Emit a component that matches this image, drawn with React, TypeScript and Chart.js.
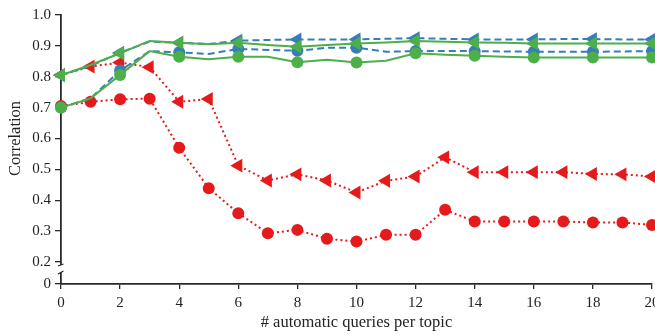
import React, { useEffect, useRef } from "react";
import { Chart, registerables } from "chart.js";

Chart.register(...registerables);

const X_VALUES = [0, 1, 2, 3, 4, 5, 6, 7, 8, 9, 10, 11, 12, 13, 14, 15, 16, 17, 18, 19, 20];
const RED_CIRCLE = [0.705, 0.719, 0.727, 0.729, 0.57, 0.439, 0.358, 0.293, 0.304, 0.275, 0.266, 0.288, 0.288, 0.369, 0.331, 0.331, 0.331, 0.331, 0.328, 0.328, 0.32];
const RED_TRIANGLE = [0.806, 0.833, 0.846, 0.831, 0.719, 0.728, 0.512, 0.464, 0.484, 0.464, 0.425, 0.463, 0.477, 0.539, 0.491, 0.491, 0.491, 0.491, 0.485, 0.484, 0.477];
const BLUE_CIRCLE = [0.7, 0.73, 0.82, 0.883, 0.879, 0.874, 0.89, 0.887, 0.884, 0.894, 0.894, 0.881, 0.883, 0.883, 0.883, 0.882, 0.881, 0.881, 0.881, 0.882, 0.883];
const BLUE_TRIANGLE = [0.805, 0.835, 0.878, 0.914, 0.91, 0.906, 0.917, 0.919, 0.921, 0.921, 0.921, 0.923, 0.925, 0.923, 0.921, 0.921, 0.921, 0.922, 0.922, 0.921, 0.921];
const GREEN_CIRCLE = [0.7, 0.73, 0.806, 0.883, 0.865, 0.857, 0.865, 0.865, 0.847, 0.855, 0.846, 0.852, 0.876, 0.871, 0.868, 0.865, 0.862, 0.862, 0.862, 0.862, 0.862];
const GREEN_TRIANGLE = [0.805, 0.838, 0.876, 0.916, 0.91, 0.905, 0.91, 0.903, 0.897, 0.903, 0.908, 0.911, 0.916, 0.913, 0.911, 0.91, 0.908, 0.908, 0.908, 0.908, 0.908];

const Y_TICKS = [0.2, 0.3, 0.4, 0.5, 0.6, 0.7, 0.8, 0.9, 1.0];
const Y_BREAK_MIN = 0.1287; // where the "0" label sits after the axis break
const X_TITLE = "# automatic queries per topic";
const Y_TITLE = "Correlation";

const RED = "#e41a1c";
const BLUE = "#377eb8";
const GREEN = "#4daf4a";
const AXIS = "#2a2a2a";
const FONT = "'Liberation Serif', 'DejaVu Serif', serif";

const toPoints = (ys: number[]) => X_VALUES.map((x, i) => ({ x, y: ys[i] }));

const everyOther = (r: number) => (ctx: any) => (ctx.dataIndex % 2 === 0 ? r : 0);

const decorPlugin = {
  id: "decor",
  afterDraw(chart: any) {
    const { ctx, chartArea } = chart;
    const y = chart.scales.y;
    const left = chartArea.left;
    const y02 = y.getPixelForValue(0.2);
    ctx.save();
    // axis break
    ctx.fillStyle = "#ffffff";
    ctx.fillRect(left - 3, y02 + 3, 6, 7);
    ctx.strokeStyle = AXIS;
    ctx.lineWidth = 1.3;
    ctx.beginPath();
    ctx.moveTo(left - 3, y02 + 4);
    ctx.lineTo(left + 2.5, y02 + 2);
    ctx.moveTo(left - 3, y02 + 12);
    ctx.lineTo(left + 2.5, y02 + 9);
    ctx.stroke();
    // titles
    ctx.fillStyle = "#222";
    ctx.font = "16.5px " + FONT;
    ctx.textAlign = "center";
    ctx.textBaseline = "middle";
    ctx.fillText(X_TITLE, (chartArea.left + chartArea.right) / 2, 323);
    ctx.translate(16, (y.getPixelForValue(1.0) + y02) / 2);
    ctx.rotate(-Math.PI / 2);
    ctx.fillText(Y_TITLE, 0, 0);
    ctx.restore();
  },
};

export default function App() {
  const ref = useRef<HTMLCanvasElement | null>(null);

  useEffect(() => {
    if (!ref.current) return;
    const common = { borderWidth: 2, tension: 0, clip: false as any, pointBorderWidth: 0 };
    const chart = new Chart(ref.current, {
      type: "line",
      data: {
        datasets: [
          {
            ...common,
            label: "green triangle",
            data: toPoints(GREEN_TRIANGLE),
            borderColor: GREEN,
            backgroundColor: GREEN,
            pointStyle: "triangle",
            rotation: -90,
            pointRadius: everyOther(8),
          },
          {
            ...common,
            label: "green circle",
            data: toPoints(GREEN_CIRCLE),
            borderColor: GREEN,
            backgroundColor: GREEN,
            pointStyle: "circle",
            pointRadius: everyOther(6),
          },
          {
            ...common,
            label: "blue triangle",
            data: toPoints(BLUE_TRIANGLE),
            borderColor: BLUE,
            backgroundColor: BLUE,
            borderDash: [7, 4],
            pointStyle: "triangle",
            rotation: -90,
            pointRadius: everyOther(8),
          },
          {
            ...common,
            label: "blue circle",
            data: toPoints(BLUE_CIRCLE),
            borderColor: BLUE,
            backgroundColor: BLUE,
            borderDash: [7, 4],
            pointStyle: "circle",
            pointRadius: everyOther(6),
          },
          {
            ...common,
            label: "red triangle",
            data: toPoints(RED_TRIANGLE),
            borderColor: RED,
            backgroundColor: RED,
            borderDash: [2, 3],
            pointStyle: "triangle",
            rotation: -90,
            pointRadius: 8,
          },
          {
            ...common,
            label: "red circle",
            data: toPoints(RED_CIRCLE),
            borderColor: RED,
            backgroundColor: RED,
            borderDash: [2, 3],
            pointStyle: "circle",
            pointRadius: 6,
          },
        ],
      },
      options: {
        responsive: false,
        animation: false,
        layout: { padding: { left: 0, top: 15, right: 48, bottom: 0 } },
        plugins: { legend: { display: false }, tooltip: { enabled: false } },
        scales: {
          x: {
            type: "linear",
            min: 0,
            max: 20,
            ticks: { stepSize: 2, color: "#222", font: { family: FONT, size: 15 }, padding: 5 },
            grid: { display: true, drawOnChartArea: false, drawTicks: true, tickLength: 5, color: AXIS, lineWidth: 1.3 },
            border: { display: true, color: AXIS, width: 1.8 },
            afterFit: (s: any) => {
              s.height = 51;
            },
          },
          y: {
            type: "linear",
            min: Y_BREAK_MIN,
            max: 1.0,
            afterBuildTicks: (s: any) => {
              s.ticks = [Y_BREAK_MIN, ...Y_TICKS].map((v) => ({ value: v }));
            },
            ticks: {
              color: "#222",
              font: { family: FONT, size: 15 },
              padding: 4,
              callback: (v: any) => (Math.abs(v - Y_BREAK_MIN) < 1e-6 ? "0" : Number(v).toFixed(1)),
            },
            grid: { display: true, drawOnChartArea: false, drawTicks: true, tickLength: 6, color: AXIS, lineWidth: 1.3 },
            border: { display: true, color: AXIS, width: 1.8 },
            afterFit: (s: any) => {
              s.width = 61;
            },
          },
        },
      },
      plugins: [decorPlugin],
    });
    return () => chart.destroy();
  }, []);

  return (
    <div style={{ position: "fixed", left: 0, top: 0, width: 655, height: 335, overflow: "hidden", background: "#fff" }}>
      <canvas ref={ref} width={700} height={335} style={{ display: "block" }} />
    </div>
  );
}
